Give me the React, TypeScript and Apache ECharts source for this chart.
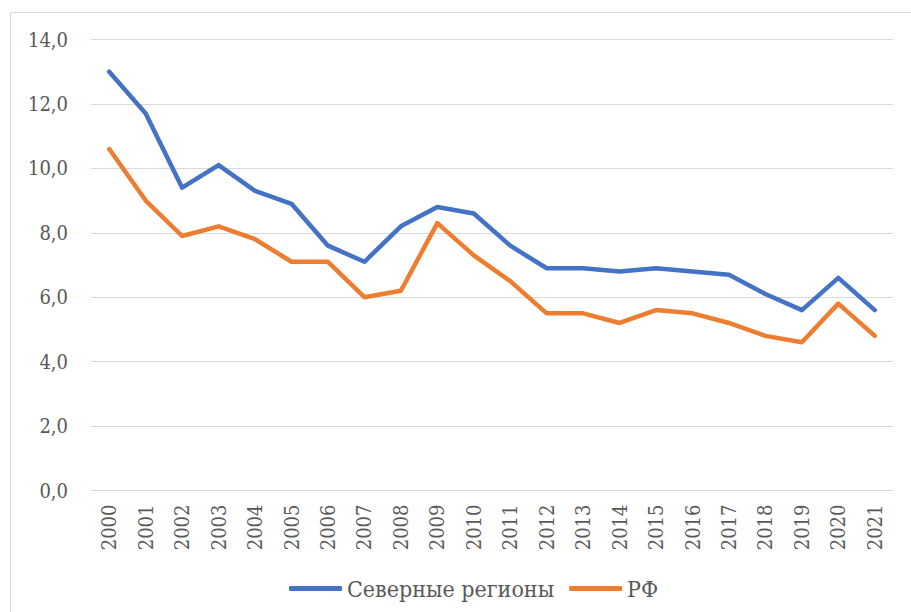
import React, { useEffect, useRef } from "react";
import * as echarts from "echarts";

const years = ["2000","2001","2002","2003","2004","2005","2006","2007","2008","2009","2010","2011","2012","2013","2014","2015","2016","2017","2018","2019","2020","2021"];
const northRegions = [13.0, 11.7, 9.4, 10.1, 9.3, 8.9, 7.6, 7.1, 8.2, 8.8, 8.6, 7.6, 6.9, 6.9, 6.8, 6.9, 6.8, 6.7, 6.1, 5.6, 6.6, 5.6];
const russia = [10.6, 9.0, 7.9, 8.2, 7.8, 7.1, 7.1, 6.0, 6.2, 8.3, 7.3, 6.5, 5.5, 5.5, 5.2, 5.6, 5.5, 5.2, 4.8, 4.6, 5.8, 4.8];
const seriesNames = ["Северные регионы", "РФ"];

const FONT = "DejaVu Serif Condensed";
const TEXT = "#595959";
const GRID = "#d9d9d9";

export default function App() {
  const ref = useRef<HTMLDivElement>(null);
  useEffect(() => {
    if (!ref.current) return;
    const chart = echarts.init(ref.current, null, { renderer: "svg" });
    chart.setOption({
      animation: false,
      backgroundColor: "#ffffff",
      textStyle: { fontFamily: FONT },
      graphic: [
        {
          type: "rect",
          shape: { x: 10.5, y: 12.5, width: 1000, height: 1000 },
          style: { fill: "none", stroke: GRID, lineWidth: 1 },
          silent: true,
        },
      ],
      grid: { left: 91, right: 18, top: 39.5, bottom: 121.5 },
      legend: {
        left: 284,
        top: 572,
        itemWidth: 53,
        itemHeight: 5,
        itemGap: 15,
        icon: "roundRect",
        textStyle: { fontFamily: FONT, fontSize: 23, color: TEXT },
        data: seriesNames,
      },
      xAxis: {
        type: "category",
        data: years,
        boundaryGap: true,
        axisTick: { show: false },
        axisLine: { lineStyle: { color: GRID, width: 1 } },
        axisLabel: {
          rotate: 90,
          interval: 0,
          margin: 14,
          formatter: (v: string) => "{t|" + v + "}",
          rich: { t: { fontFamily: FONT, fontSize: 20, color: TEXT } },
        },
      },
      yAxis: {
        type: "value",
        min: 0,
        max: 14,
        interval: 2,
        axisLine: { show: false },
        axisTick: { show: false },
        splitLine: { lineStyle: { color: GRID, width: 1 } },
        axisLabel: {
          margin: 23,
          formatter: (v: number) => "{t|" + v.toFixed(1).replace(".", ",") + "}",
          rich: { t: { fontFamily: FONT, fontSize: 20, color: TEXT } },
          fontFamily: FONT,
          fontSize: 20,
          color: TEXT,
        },
      },
      series: [
        {
          name: seriesNames[0],
          type: "line",
          data: northRegions,
          symbol: "none",
          lineStyle: { color: "#4472C4", width: 4.5, cap: "round", join: "round" },
          itemStyle: { color: "#4472C4" },
        },
        {
          name: seriesNames[1],
          type: "line",
          data: russia,
          symbol: "none",
          lineStyle: { color: "#ED7D31", width: 4.5, cap: "round", join: "round" },
          itemStyle: { color: "#ED7D31" },
        },
      ],
    });
    return () => chart.dispose();
  }, []);
  return (
    <div
      ref={ref}
      style={{ position: "fixed", left: 0, top: 0, width: 911, height: 612 }}
    />
  );
}
